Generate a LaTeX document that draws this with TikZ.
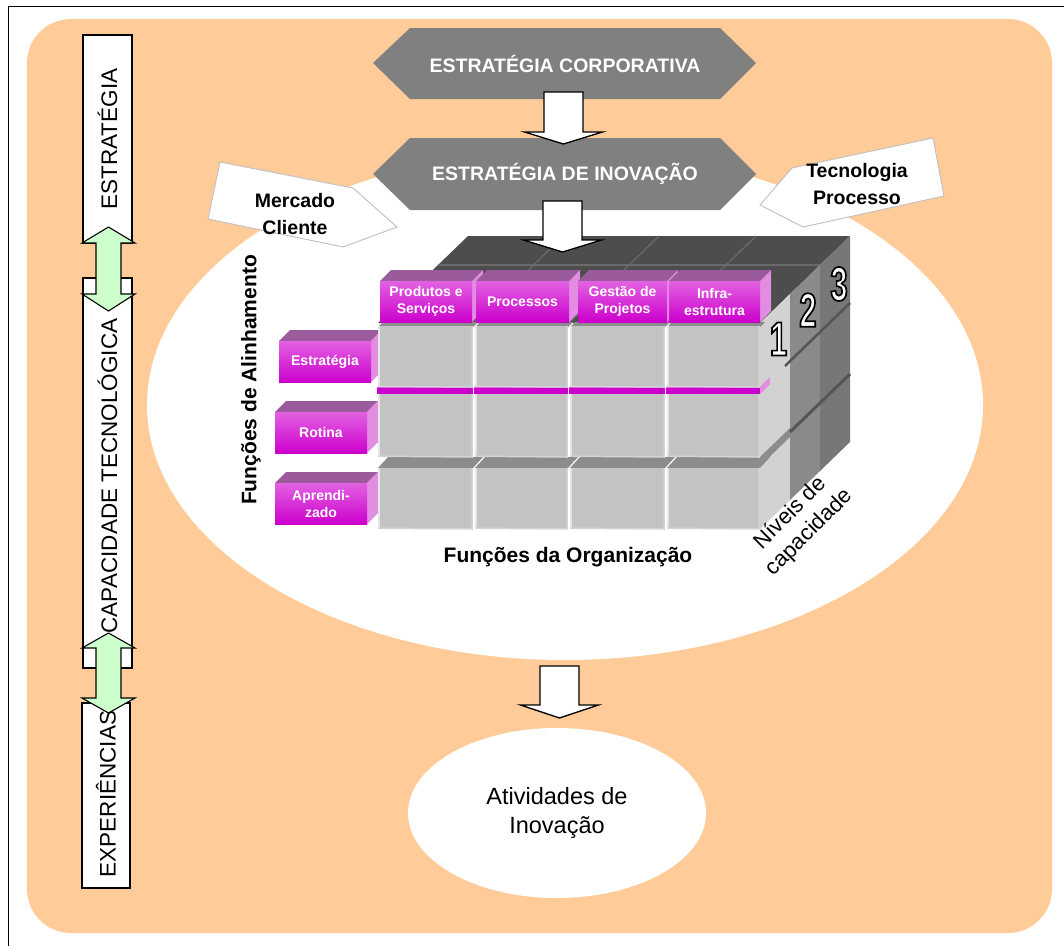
\documentclass[tikz,border=0pt]{standalone}
\usepackage{fontspec}
\setmainfont{Liberation Sans}
\newfontface\digitface[FakeBold=3.5, FakeStretch=0.64]{Liberation Sans Bold}
\usetikzlibrary{shapes.geometric}

\definecolor{orangebg}{HTML}{FFCC99}
\definecolor{hexgray}{HTML}{808080}
\definecolor{greenarr}{HTML}{CCFFCC}
\definecolor{calloutline}{HTML}{BFBFBF}
\definecolor{magfront1}{HTML}{E262E2}
\definecolor{magfront2}{HTML}{CC00CC}
\definecolor{magtop}{HTML}{9B5A9B}
\definecolor{magside}{HTML}{E28CE2}
\definecolor{cellgray}{HTML}{C3C3C3}
\definecolor{cellhi}{HTML}{E6E6E6}
\definecolor{cellrim}{HTML}{D4D4D4}
\definecolor{celltop}{HTML}{8C8C8C}
\definecolor{cubetop}{HTML}{4D4D4D}
\definecolor{cubeline}{HTML}{6A6A6A}
\definecolor{side0}{HTML}{D2D2D2}
\definecolor{side1}{HTML}{8A8A8A}
\definecolor{side2}{HTML}{777777}
\definecolor{sidegap}{HTML}{555555}

\newcommand\fsz[2]{\fontsize{#1}{#2}\selectfont}

\tikzset{
  boxtxt/.style={font=\fsz{22.5}{27}, text=black, inner sep=0},
  hextxt/.style={font=\bfseries\fsz{19.5}{23}, text=white},
  calltxt/.style={font=\bfseries\fsz{19.5}{26.5}, align=center, text=black},
  celltxt/.style={font=\bfseries\fsz{14}{17}, align=center, text=white, inner sep=0},
  axistxt/.style={font=\bfseries\fsz{21}{25}, text=black, inner sep=0},
  plaintxt/.style={font=\fsz{23.5}{29}, align=center, text=black},
  digitnode/.style={font=\digitface\fsz{48}{48}, inner sep=0},
  sidebox/.style={draw=black, line width=1.1pt, fill=white},
  greenarrow/.style={draw=black, line width=1.1pt, fill=greenarr, line join=miter},
  blockarrow/.style={draw=black, line width=1.3pt, fill=white, line join=miter},
  callout/.style={draw=calloutline, line width=0.9pt, fill=white},
}

% magenta 3D block: front top-left (x0,y0), front bottom-right (x1,y1), name, text
\newcommand\magblock[6]{%
  \fill[magtop] (#1,#2) -- ({#1+11},{#2-11}) -- ({#3+11},{#2-11}) -- (#3,#2) -- cycle;
  \fill[magside] (#3,#2) -- ({#3+11},{#2-11}) -- ({#3+11},{#4-11}) -- (#3,#4) -- cycle;
  \shade[top color=magfront1, bottom color=magfront2] (#1,#2) rectangle (#3,#4);
  \node[celltxt] (#5) at ({(#1+#3)/2},{(#2+#4)/2}) {#6};}

% vertical double-headed block arrow: centre x, top tip, top base, bottom base, bottom tip
\newcommand\dblarrow[5]{%
  \draw[greenarrow] (#1,#2) -- ({#1+26.5},#3) -- ({#1+12.5},#3) -- ({#1+12.5},#4)
    -- ({#1+26.5},#4) -- (#1,#5) -- ({#1-26.5},#4) -- ({#1-12.5},#4)
    -- ({#1-12.5},#3) -- ({#1-26.5},#3) -- cycle;}

% downward block arrow: centre x, shaft top, head base, tip
\newcommand\flowarrow[4]{%
  \draw[blockarrow] ({#1-19.5},#2) -- ({#1+19.5},#2) -- ({#1+19.5},#3) -- ({#1+39},#3)
    -- (#1,#4) -- ({#1-39},#3) -- ({#1-19.5},#3) -- cycle;}

% white digit stroked in black (fill white, outline from the emboldening stroke)
\newcommand\outlinedigit[1]{{\color{white}\special{pdf:literal direct 0 0 0 RG}#1}}

\begin{document}
\begin{tikzpicture}[x=1pt,y=-1pt]
\useasboundingbox (0,0) rectangle (1064,945);
\fill[white] (0,0) rectangle (1064,945);

% frame and background
\draw[line width=1pt] (8,6) rectangle (1070,952);
\fill[orangebg, rounded corners=44pt] (27,19) rectangle (1052,933);
\node[ellipse, fill=white, minimum width=836pt, minimum height=510pt, inner sep=0] (zone) at (565,405) {};
\node[ellipse, fill=white, minimum width=298pt, minimum height=170pt, plaintxt] (act) at (557,813) {Atividades de\\Inovação};

% left column of stages
\draw[sidebox] (83,35) rectangle (132,243);
\draw[sidebox] (83,278) rectangle (132,668);
\draw[sidebox] (82,703) rectangle (130,888);
\node[boxtxt, rotate=90] (stEstr) at (107.5,139) {ESTRATÉGIA};
\node[boxtxt, rotate=90] (stCap) at (107.5,476) {CAPACIDADE TECNOLÓGICA};
\node[boxtxt, rotate=90] (stExp) at (106,794) {EXPERIÊNCIAS};
\dblarrow{108.5}{227}{243}{294}{311}
\dblarrow{108.5}{633}{648}{698}{713}

% strategy banners
\fill[hexgray] (373,63) -- (410,28) -- (720,28) -- (756,63) -- (720,99) -- (410,99) -- cycle;
\node[hextxt] (corp) at (565,64) {ESTRATÉGIA CORPORATIVA};
\fill[hexgray] (373,174) -- (410,138) -- (720,138) -- (756,174) -- (720,210) -- (410,210) -- cycle;
\node[hextxt] (inov) at (565,174) {ESTRATÉGIA DE INOVAÇÃO};

% side inputs
\draw[callout] (220,162) -- (353,188) -- (397,227) -- (343,247) -- (208,219) -- cycle;
\node[calltxt] (merc) at (295,214) {Mercado\\Cliente};
\draw[callout] (933,138) -- (944,196) -- (803,227) -- (760,205) -- (792,168) -- cycle;
\node[calltxt] (tec) at (857,184) {Tecnologia\\Processo};

% cube: top face
\fill[cubetop] (378,323) -- (468,236) -- (850,236) -- (760,323) -- cycle;
\foreach \xc in {473.5,569,666}
  \draw[cubeline, line width=1.2pt] (\xc,323) -- ({\xc+90},236);
\draw[cubeline, line width=1.2pt] (438,265) -- (820,265);

% cube: right side, three capability levels
\fill[side0] (760,323) -- (790,294) -- (790,500) -- (760,529) -- cycle;
\fill[side1] (790,294) -- (820,265) -- (820,471) -- (790,500) -- cycle;
\fill[side2] (820,265) -- (850,236) -- (850,442) -- (820,471) -- cycle;
\fill[magside] (760,387) -- (770,377) -- (770,384) -- (760,394) -- cycle;
\draw[sidegap, line width=2.5pt] (785,366) -- (850,303);
\fill[celltop] (760,457) -- (790,428) -- (790,437) -- (760,466) -- cycle;
\draw[sidegap, line width=3pt] (790,432) -- (850,374);

% alignment function labels
\magblock{279}{341}{371}{382}{rEstr}{Estratégia}
\magblock{275}{412}{367}{453}{rRot}{Rotina}
\magblock{275}{483}{367}{524}{rApr}{Aprendi-\\zado}

% front grid of cells
\foreach \xa/\xb in {378/473,475/568,570/665,667/760}{
  \fill[celltop] (\xa,327) -- ({\xa+5},322) -- ({\xb+5},322) -- (\xb,327) -- cycle;
  \fill[cellgray] (\xa,326) rectangle (\xb,387);
  \fill[magfront2] ({\xa-1},387) rectangle (\xb,394);
  \draw[magfront1, line width=0.8pt] ({\xa-1},387.5) -- (\xb,387.5);
  \fill[cellgray] (\xa,394) rectangle (\xb,457);
  \fill[celltop] (\xa,468) -- ({\xa+10},457) -- ({\xb+10},457) -- (\xb,468) -- cycle;
  \fill[cellgray] (\xa,468) rectangle (\xb,529);
  \foreach \ya/\yb in {326/387,394/457,468/529}{
    \draw[cellhi, line width=1.5pt] ({\xa+0.8},\ya) -- ({\xa+0.8},\yb);
    \draw[cellrim, line width=1.5pt] ({\xb-0.8},\ya) -- ({\xb-0.8},\yb) -- (\xa,{\yb-0.8});
  }
}

% organisation function headers
\magblock{380}{281}{472}{322}{hProd}{Produtos e\\Serviços}
\magblock{476}{281}{569}{322}{hProc}{Processos}
\magblock{578}{281}{667}{322}{hGest}{Gestão de\\Projetos}
\magblock{669}{281}{760}{322}{hInfra}{Infra-\\estrutura}

% level numbers
\node[digitnode] (lvlA) at (778.5,339) {\outlinedigit{1}};
\node[digitnode] (lvlB) at (808,310) {\outlinedigit{2}};
\node[digitnode] (lvlC) at (839,284) {\outlinedigit{3}};

% axis titles
\node[axistxt, rotate=90] (axAlin) at (251,380) {Funções de Alinhamento};
\node[axistxt] (axOrg) at (568,557) {Funções da Organização};
\node[font=\fsz{22}{27}, rotate=45, align=center, inner sep=0] (axNiv) at (800,523) {Níveis de\\capacidade};

% flow arrows
\flowarrow{563.5}{92}{132}{144}
\flowarrow{562.5}{201}{240}{252}
\flowarrow{559.5}{666}{705}{718}
\end{tikzpicture}
\end{document}
